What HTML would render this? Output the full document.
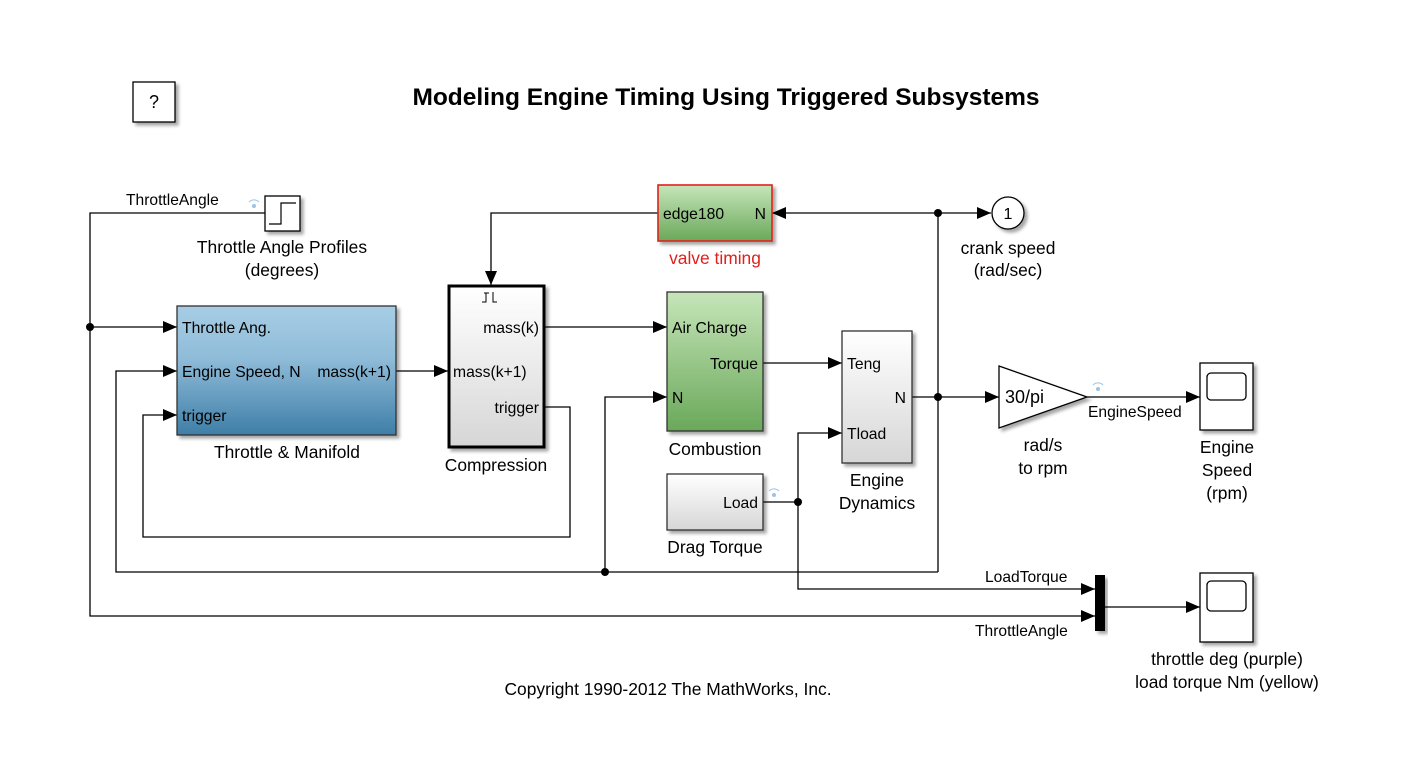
<!DOCTYPE html>
<html><head><meta charset="utf-8"><style>
html,body{margin:0;padding:0;background:#fff;}
svg{display:block;font-family:"Liberation Sans",sans-serif;}
</style></head><body>
<svg width="1410" height="776" viewBox="0 0 1410 776" xmlns="http://www.w3.org/2000/svg">
<defs>
<linearGradient id="blue" x1="0" y1="0" x2="0" y2="1"><stop offset="0" stop-color="#a7cde5"/><stop offset="0.4" stop-color="#8fbcd9"/><stop offset="1" stop-color="#3f7ea7"/></linearGradient>
<linearGradient id="green" x1="0" y1="0" x2="0" y2="1"><stop offset="0" stop-color="#c6e5b9"/><stop offset="1" stop-color="#6aa85a"/></linearGradient>
<linearGradient id="gray" x1="0" y1="0" x2="0" y2="1"><stop offset="0" stop-color="#ffffff"/><stop offset="1" stop-color="#d6d6d6"/></linearGradient>
<filter id="sh" x="-20%" y="-20%" width="150%" height="150%"><feDropShadow dx="3" dy="3" stdDeviation="1.5" flood-color="#000" flood-opacity="0.35"/></filter>
<marker id="ar" markerWidth="14" markerHeight="12" refX="14" refY="6" orient="auto" markerUnits="userSpaceOnUse"><path d="M0,0 L14,6 L0,12 z" fill="#000"/></marker>
</defs>
<g fill="none" stroke="#000" stroke-width="1.3">
<rect x="133" y="82" width="42" height="40" fill="#fff" filter="url(#sh)"/>
<polyline points="265,213 90,213 90,616 1095,616" marker-end="url(#ar)"/>
<line x1="90" y1="327" x2="177" y2="327" marker-end="url(#ar)"/>
<polyline points="938,572 116,572 116,371 177,371" marker-end="url(#ar)"/>
<polyline points="545,407 570,407 570,537 143,537 143,415 177,415" marker-end="url(#ar)"/>
<polyline points="658,213 491,213 491,285" marker-end="url(#ar)"/>
<line x1="938" y1="213" x2="772" y2="213" marker-end="url(#ar)"/>
<line x1="938" y1="213" x2="991" y2="213" marker-end="url(#ar)"/>
<line x1="938" y1="213" x2="938" y2="572"/>
<line x1="396" y1="371" x2="448" y2="371" marker-end="url(#ar)"/>
<line x1="545" y1="327" x2="667" y2="327" marker-end="url(#ar)"/>
<polyline points="605,572 605,397 667,397" marker-end="url(#ar)"/>
<line x1="763" y1="363" x2="842" y2="363" marker-end="url(#ar)"/>
<line x1="912" y1="397" x2="999" y2="397" marker-end="url(#ar)"/>
<line x1="1087" y1="397" x2="1200" y2="397" marker-end="url(#ar)"/>
<line x1="763" y1="502" x2="798" y2="502"/>
<polyline points="798,502 798,433 842,433" marker-end="url(#ar)"/>
<polyline points="798,502 798,589 1095,589" marker-end="url(#ar)"/>
<line x1="1105" y1="607" x2="1200" y2="607" marker-end="url(#ar)"/>
<rect x="265" y="196" width="35" height="35" fill="#fff" filter="url(#sh)"/>
<polyline points="269,224 281,224 281,203 296,203" stroke-width="1.2"/>
<rect x="177" y="306" width="219" height="129" fill="url(#blue)" stroke="#333" filter="url(#sh)"/>
<rect x="449" y="286" width="95" height="161" fill="url(#gray)" stroke-width="3" filter="url(#sh)"/>
<rect x="658" y="185" width="114" height="56" fill="url(#green)" stroke="#e0201c" stroke-width="1.6" filter="url(#sh)"/>
<rect x="667" y="292" width="96" height="139" fill="url(#green)" stroke="#333" filter="url(#sh)"/>
<rect x="842" y="331" width="70" height="132" fill="url(#gray)" stroke="#333" filter="url(#sh)"/>
<rect x="667" y="474" width="96" height="56" fill="url(#gray)" stroke="#333" filter="url(#sh)"/>
<circle cx="1008" cy="213" r="16" fill="#fff" filter="url(#sh)"/>
<polygon points="999,366 1087,397 999,428" fill="#fff" filter="url(#sh)"/>
<rect x="1200" y="363" width="53" height="67" fill="#fff" filter="url(#sh)"/>
<rect x="1207" y="373" width="39" height="27" rx="4"/>
<rect x="1200" y="573" width="53" height="69" fill="#fff" filter="url(#sh)"/>
<rect x="1207" y="581" width="39" height="30" rx="4"/>
<path d="M489,293 L484,293 M486,293 L486,302 L482,302 M493,292 L493,302 L497,302" stroke-width="1"/>
</g>
<rect x="1095" y="575" width="10" height="56" fill="#000" filter="url(#sh)"/>
<g fill="#000">
<circle cx="90" cy="327" r="4"/><circle cx="938" cy="213" r="4"/><circle cx="938" cy="397" r="4"/>
<circle cx="605" cy="572" r="4"/><circle cx="798" cy="502" r="4"/>
</g>
<g fill="#9cc3e6">
<circle cx="254" cy="206" r="2"/><path d="M249,202 a7,7 0 0 1 10,0" stroke="#9cc3e6" fill="none"/>
<circle cx="1098" cy="389" r="2"/><path d="M1093,385 a7,7 0 0 1 10,0" stroke="#9cc3e6" fill="none"/>
<circle cx="774" cy="495" r="2"/><path d="M769,491 a7,7 0 0 1 10,0" stroke="#9cc3e6" fill="none"/>
</g>
<g font-size="17.4" fill="#000">
<text x="154" y="108" text-anchor="middle" font-size="18">?</text>
<text x="726" y="105" text-anchor="middle" font-size="24.5" font-weight="bold">Modeling Engine Timing Using Triggered Subsystems</text>
<text x="126" y="205" font-size="15.6">ThrottleAngle</text>
<text x="282" y="253" text-anchor="middle">Throttle Angle Profiles</text>
<text x="282" y="276" text-anchor="middle">(degrees)</text>
<text x="182" y="333" font-size="15.7">Throttle Ang.</text>
<text x="182" y="377" font-size="15.7">Engine Speed, N</text>
<text x="391" y="377" font-size="15.7" text-anchor="end">mass(k+1)</text>
<text x="182" y="421" font-size="15.7">trigger</text>
<text x="287" y="458" text-anchor="middle">Throttle &amp; Manifold</text>
<text x="539" y="333" font-size="15.7" text-anchor="end">mass(k)</text>
<text x="453" y="377" font-size="15.7">mass(k+1)</text>
<text x="539" y="413" font-size="15.7" text-anchor="end">trigger</text>
<text x="496" y="471" text-anchor="middle">Compression</text>
<text x="663" y="219" font-size="15.7">edge180</text>
<text x="766" y="219" font-size="15.7" text-anchor="end">N</text>
<text x="715" y="264" text-anchor="middle" fill="#e0201c">valve timing</text>
<text x="1008" y="219" font-size="16" text-anchor="middle">1</text>
<text x="1008" y="254" text-anchor="middle">crank speed</text>
<text x="1008" y="276" text-anchor="middle">(rad/sec)</text>
<text x="672" y="333" font-size="15.7">Air Charge</text>
<text x="758" y="369" font-size="15.7" text-anchor="end">Torque</text>
<text x="672" y="403" font-size="15.7">N</text>
<text x="715" y="455" text-anchor="middle">Combustion</text>
<text x="847" y="369" font-size="15.7">Teng</text>
<text x="906" y="403" font-size="15.7" text-anchor="end">N</text>
<text x="847" y="439" font-size="15.7">Tload</text>
<text x="877" y="486" text-anchor="middle">Engine</text>
<text x="877" y="509" text-anchor="middle">Dynamics</text>
<text x="758" y="508" font-size="15.7" text-anchor="end">Load</text>
<text x="715" y="553" text-anchor="middle">Drag Torque</text>
<text x="1005" y="403" font-size="18">30/pi</text>
<text x="1043" y="451" text-anchor="middle">rad/s</text>
<text x="1043" y="474" text-anchor="middle">to rpm</text>
<text x="1088" y="417" font-size="15.6">EngineSpeed</text>
<text x="1227" y="453" text-anchor="middle">Engine</text>
<text x="1227" y="476" text-anchor="middle">Speed</text>
<text x="1227" y="499" text-anchor="middle">(rpm)</text>
<text x="985" y="582" font-size="15.6">LoadTorque</text>
<text x="975" y="636" font-size="15.6">ThrottleAngle</text>
<text x="1227" y="665" text-anchor="middle">throttle deg (purple)</text>
<text x="1227" y="688" text-anchor="middle">load torque Nm (yellow)</text>
<text x="668" y="695" text-anchor="middle">Copyright 1990-2012 The MathWorks, Inc.</text>
</g>
</svg>
</body></html>
